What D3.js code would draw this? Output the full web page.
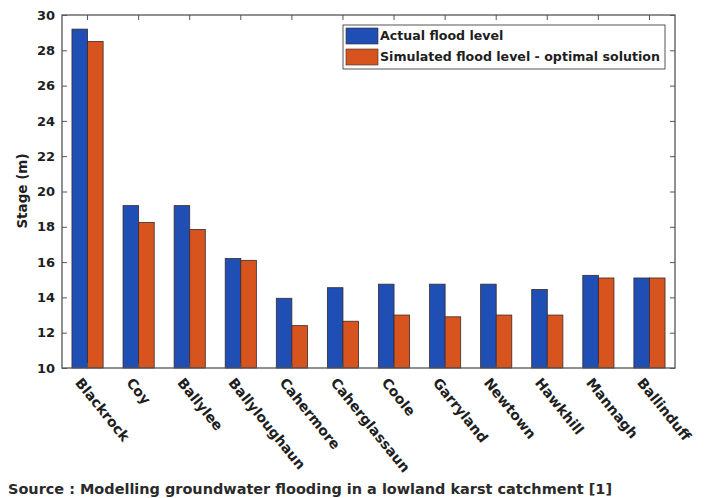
<!DOCTYPE html>
<html>
<head>
<meta charset="utf-8">
<script src="https://cdn.jsdelivr.net/npm/d3@7"></script>
<style>
  html, body { margin: 0; padding: 0; background: #fff; }
  svg { display: block; }
  text { font-family: "DejaVu Sans", "Liberation Sans", Arial, sans-serif; }
</style>
</head>
<body>
<svg id="chart" width="707" height="498"></svg>
<script>
// Flood stage at each turlough: observed vs. optimised simulation
const sites = ["Blackrock", "Coy", "Ballylee", "Ballyloughaun", "Cahermore", "Caherglassaun",
               "Coole", "Garryland", "Newtown", "Hawkhill", "Mannagh", "Ballinduff"];
const actualLevel    = [29.2, 19.2, 19.2, 16.2, 13.95, 14.55, 14.75, 14.75, 14.75, 14.45, 15.25, 15.1];
const simulatedLevel = [28.5, 18.25, 17.85, 16.1, 12.4, 12.65, 13.0, 12.9, 13.0, 13.0, 15.1, 15.1];
const seriesNames = ["Actual flood level", "Simulated flood level - optimal solution"];
const yTicks = [10, 12, 14, 16, 18, 20, 22, 24, 26, 28, 30];
const sourceNote = "Source : Modelling groundwater flooding in a lowland karst catchment [1]";

const colors = ["#1f4fb4", "#d8541f"];
const ink = "#1e1e1e";
const svg = d3.select("#chart");
const m = { left: 62, right: 675, top: 15, bottom: 368 };

const x = d3.scaleBand().domain(sites).range([m.left, m.right]).paddingInner(0).paddingOuter(0);
const barW = x.bandwidth() * 0.305;
const y = d3.scaleLinear().domain([10, 30]).range([m.bottom, m.top]);

const g = svg.append("g");

// bars
const series = [actualLevel, simulatedLevel];
series.forEach((vals, s) => {
  g.selectAll(null).data(sites).enter().append("rect")
    .attr("x", (d) => x(d) + x.bandwidth() / 2 + (s === 0 ? -barW : 0))
    .attr("y", (d, i) => y(vals[i]))
    .attr("width", barW)
    .attr("height", (d, i) => y(10) - y(vals[i]))
    .attr("fill", colors[s])
    .attr("stroke", "#3a2a2a")
    .attr("stroke-width", 0.8);
});

// axes box
g.append("rect")
  .attr("x", m.left).attr("y", m.top)
  .attr("width", m.right - m.left).attr("height", m.bottom - m.top)
  .attr("fill", "none").attr("stroke", "#555").attr("stroke-width", 1.3);

// y ticks (left and right, inward)
const yAxisL = d3.axisLeft(y).tickValues(yTicks).tickSize(-5).tickPadding(7).tickFormat(d3.format("d"));
const ya = g.append("g").attr("transform", `translate(${m.left},0)`).call(yAxisL);
ya.select(".domain").remove();
ya.selectAll("line").attr("stroke", "#555");
ya.selectAll("text").attr("font-size", 13).attr("font-weight", "bold").attr("fill", ink)
  .attr("font-family", "'DejaVu Sans', sans-serif");

const yAxisR = d3.axisRight(y).tickValues(yTicks).tickSize(-5).tickFormat("");
const yr = g.append("g").attr("transform", `translate(${m.right},0)`).call(yAxisR);
yr.select(".domain").remove();
yr.selectAll("line").attr("stroke", "#555");

// x ticks (top and bottom, inward)
const xAxisB = d3.axisBottom(x).tickSize(-5).tickFormat("");
const xb = g.append("g").attr("transform", `translate(0,${m.bottom})`).call(xAxisB);
xb.select(".domain").remove();
xb.selectAll("line").attr("stroke", "#555");
const xAxisT = d3.axisTop(x).tickSize(-5).tickFormat("");
const xt = g.append("g").attr("transform", `translate(0,${m.top})`).call(xAxisT);
xt.select(".domain").remove();
xt.selectAll("line").attr("stroke", "#555");

// rotated category labels
g.selectAll(null).data(sites).enter().append("text")
  .attr("transform", (d) => `translate(${x(d) + x.bandwidth() / 2 - 13},${m.bottom + 15}) rotate(51)`)
  .attr("text-anchor", "start")
  .attr("font-size", 14).attr("font-weight", "bold").attr("fill", ink)
  .text((d) => d);

// y-axis title
g.append("text")
  .attr("transform", `translate(27,191) rotate(-90)`)
  .attr("text-anchor", "middle")
  .attr("font-size", 13.5).attr("font-weight", "bold").attr("fill", ink)
  .text("Stage (m)");

// legend
const lg = g.append("g");
lg.append("rect").attr("x", 343).attr("y", 25).attr("width", 322).attr("height", 44)
  .attr("fill", "#fff").attr("stroke", "#555").attr("stroke-width", 1);
seriesNames.forEach((name, i) => {
  lg.append("rect").attr("x", 346).attr("y", 28 + i * 21).attr("width", 32).attr("height", 16)
    .attr("fill", colors[i]).attr("stroke", "#3a2a2a").attr("stroke-width", 0.6);
  lg.append("text").attr("x", 380).attr("y", 36 + i * 21).attr("dy", "0.35em")
    .attr("font-size", 12.6).attr("font-weight", "bold").attr("fill", ink)
    .text(name);
});

// source note
svg.append("text")
  .attr("x", 8).attr("y", 494)
  .attr("font-family", "'Open Sans', sans-serif")
  .attr("font-size", 14.5).attr("font-weight", "bold").attr("fill", "#2a2a2a")
  .attr("textLength", 604).attr("lengthAdjust", "spacingAndGlyphs")
  .text(sourceNote);
</script>
</body>
</html>
